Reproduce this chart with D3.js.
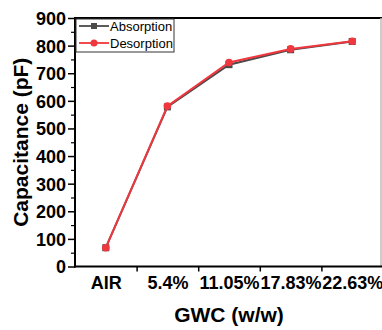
<!DOCTYPE html>
<html><head><meta charset="utf-8">
<script src="https://cdn.jsdelivr.net/npm/d3@7/dist/d3.min.js"></script>
<style>body{margin:0;background:#fff}svg{display:block}</style>
</head><body>
<svg id="c" width="382" height="330"></svg>
<script>
const categories = ["AIR", "5.4%", "11.05%", "17.83%", "22.63%"];
const absorption = [68, 578, 731, 785, 815];
const desorption = [68, 581, 739, 788, 816];
const yTicks = [0, 100, 200, 300, 400, 500, 600, 700, 800, 900];
const seriesNames = ["Absorption", "Desorption"];
const seriesColors = ["#4a4a4a", "#f0373e"];

const svg = d3.select("#c");
const m = {l: 75, r: 383, t: 18, b: 266.5};
const x = d3.scaleLinear().domain([-0.5, 4.5]).range([m.l, m.r]);
const y = d3.scaleLinear().domain([0, 900]).range([m.b, m.t]);
const font = "'Liberation Sans', Arial, sans-serif";

// frame top & right
svg.append("line").attr("x1", m.l).attr("x2", 382).attr("y1", m.t).attr("y2", m.t)
  .attr("stroke", "#000").attr("stroke-width", 2);
svg.append("line").attr("x1", 381).attr("x2", 381).attr("y1", m.t).attr("y2", m.b)
  .attr("stroke", "#bbb").attr("stroke-width", 1.5);

// Y axis
const yAxis = d3.axisLeft(y).tickValues(yTicks).tickSize(7).tickPadding(2).tickFormat(d3.format("d"));
const gy = svg.append("g").attr("transform", `translate(${m.l},0)`).call(yAxis);
gy.select(".domain").remove();
gy.selectAll(".tick line").attr("stroke", "#000").attr("stroke-width", 1.5);
gy.selectAll("text").attr("font-family", font).attr("font-weight", "bold").attr("font-size", 18).attr("fill", "#000").attr("dy", "0.36em");
const gym = svg.append("g").attr("transform", `translate(${m.l},0)`)
  .call(d3.axisLeft(y).tickValues(d3.range(50, 900, 100)).tickSize(4).tickFormat(""));
gym.select(".domain").remove();
gym.selectAll(".tick line").attr("stroke", "#000").attr("stroke-width", 1.2);
svg.append("line").attr("x1", m.l).attr("x2", m.l).attr("y1", m.t - 1).attr("y2", m.b + 1)
  .attr("stroke", "#000").attr("stroke-width", 2);

// X axis
const gx = svg.append("g").attr("transform", `translate(0,${m.b})`)
  .call(d3.axisBottom(x).tickValues(d3.range(0, 5)).tickSize(0).tickPadding(10).tickFormat(i => categories[i]));
gx.select(".domain").remove();
gx.selectAll("text").attr("font-family", font).attr("font-weight", "bold").attr("font-size", 18).attr("fill", "#000");
const gxm = svg.append("g").attr("transform", `translate(0,${m.b})`)
  .call(d3.axisBottom(x).tickValues([0.5, 1.5, 2.5, 3.5]).tickSize(5).tickFormat(""));
gxm.select(".domain").remove();
gxm.selectAll(".tick line").attr("stroke", "#000").attr("stroke-width", 1.5);
svg.append("line").attr("x1", m.l - 1).attr("x2", 382).attr("y1", m.b).attr("y2", m.b)
  .attr("stroke", "#000").attr("stroke-width", 2);

// titles
svg.append("text").attr("x", (m.l + m.r) / 2).attr("y", 322).attr("text-anchor", "middle")
  .attr("font-family", font).attr("font-weight", "bold").attr("font-size", 21).text("GWC (w/w)");
svg.append("text").attr("transform", `translate(28,${(m.t + m.b) / 2}) rotate(-90)`).attr("text-anchor", "middle")
  .attr("font-family", font).attr("font-weight", "bold").attr("font-size", 21).text("Capacitance (pF)");

// series
const line = d3.line().x((d, i) => x(i)).y(d => y(d));
[absorption, desorption].forEach((data, k) => {
  svg.append("path").datum(data).attr("d", line).attr("fill", "none")
    .attr("stroke", seriesColors[k]).attr("stroke-width", 2);
  if (k === 0) {
    svg.selectAll(".sq").data(data).enter().append("rect")
      .attr("x", (d, i) => x(i) - 3.5).attr("y", d => y(d) - 3.5).attr("width", 7).attr("height", 7)
      .attr("fill", seriesColors[k]);
  } else {
    svg.selectAll(".ci").data(data).enter().append("circle")
      .attr("cx", (d, i) => x(i)).attr("cy", d => y(d)).attr("r", 3.8)
      .attr("fill", seriesColors[k]);
  }
});

// legend
const lg = svg.append("g");
lg.append("rect").attr("x", m.l + 1).attr("y", m.t + 1).attr("width", 98).attr("height", 33)
  .attr("fill", "#fff").attr("stroke", "#333").attr("stroke-width", 1);
seriesNames.forEach((n, k) => {
  const yy = 26 + k * 17;
  lg.append("line").attr("x1", 79).attr("x2", 109).attr("y1", yy).attr("y2", yy)
    .attr("stroke", seriesColors[k]).attr("stroke-width", 1.8);
  if (k === 0) lg.append("rect").attr("x", 91).attr("y", yy - 3).attr("width", 6).attr("height", 6).attr("fill", seriesColors[k]);
  else lg.append("circle").attr("cx", 94).attr("cy", yy).attr("r", 3.5).attr("fill", seriesColors[k]);
  lg.append("text").attr("x", 110).attr("y", yy + 4.5).attr("font-family", font).attr("font-size", 13)
    .attr("fill", "#000").text(n);
});
</script>
</body></html>
